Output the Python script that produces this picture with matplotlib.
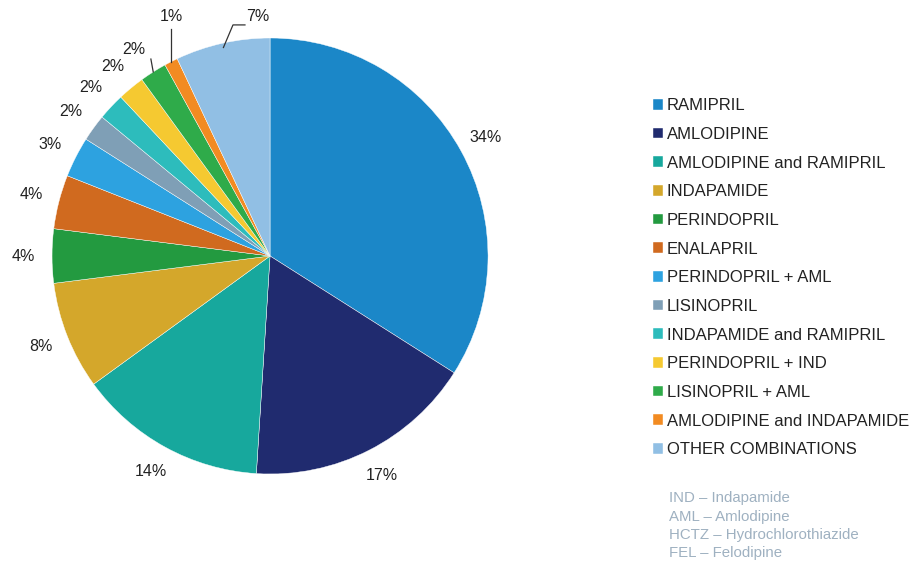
import matplotlib.pyplot as plt
import numpy as np

plt.rcParams['font.family'] = ['Liberation Sans', 'DejaVu Sans']

drugs = ['RAMIPRIL', 'AMLODIPINE', 'AMLODIPINE and RAMIPRIL', 'INDAPAMIDE',
         'PERINDOPRIL', 'ENALAPRIL', 'PERINDOPRIL + AML', 'LISINOPRIL',
         'INDAPAMIDE and RAMIPRIL', 'PERINDOPRIL + IND', 'LISINOPRIL + AML',
         'AMLODIPINE and INDAPAMIDE', 'OTHER COMBINATIONS']
shares = [34, 17, 14, 8, 4, 4, 3, 2, 2, 2, 2, 1, 7]
colors = ['#1b87c8', '#202b6f', '#17a89d', '#d4a72b', '#239a40', '#d06a1f',
          '#2da2e0', '#7f9fb6', '#2dbcbc', '#f5c931', '#2fab4a', '#f28b22',
          '#91bfe4']
notes = ['IND \u2013 Indapamide', 'AML \u2013 Amlodipine',
         'HCTZ \u2013 Hydrochlorothiazide', 'FEL \u2013 Felodipine']

fig = plt.figure(figsize=(9.16, 5.65), dpi=100)
ax = fig.add_axes([-0.0146, 0.0453, 0.6188, 1.0032])
wedges, _ = ax.pie(shares, colors=colors, startangle=90, counterclock=False,
                   wedgeprops=dict(edgecolor='white', linewidth=0.3))
ax.set_xlim(-1.3, 1.3)
ax.set_ylim(-1.3, 1.3)
ax.set_aspect('equal')
ax.axis('off')

lab = dict(fontsize=11.5, color='#222222')
line = dict(color='#333333', lw=0.9)

# percentage labels, small slices at the top get leader lines
n = len(wedges)
for i, w in enumerate(wedges):
    mid = np.deg2rad((w.theta1 + w.theta2) / 2)
    txt = f'{shares[i]}%'
    x, y = np.cos(mid), np.sin(mid)
    if i == n - 1:
        # elbow leader for the "other" slice
        ax.plot([0.98 * x, -0.17, -0.115], [0.98 * y, 1.06, 1.06], **line)
        ax.text(-0.11, 1.10, txt, ha='left', va='center', **lab)
    elif i == n - 2:
        ax.plot([x, x], [y, 1.04], **line)
        ax.text(x, 1.10, txt, ha='center', va='center', **lab)
    elif i == n - 3:
        ax.plot([x, x * 1.02], [y, y * 1.07], **line)
        ax.text(x * 1.03 - 0.02, y * 1.08, txt, ha='right', va='bottom', **lab)
    else:
        ax.text(1.13 * x, 1.13 * y, txt, ha='center', va='center', **lab)

leg = fig.legend(wedges, drugs, loc='upper left', bbox_to_anchor=(0.706, 0.838),
                 frameon=False, fontsize=12, handlelength=0.6, handleheight=0.6,
                 handletextpad=0.2, labelspacing=0.82, borderaxespad=0)
for t in leg.get_texts():
    t.set_color('#222222')

for k, note in enumerate(notes):
    fig.text(0.730, 1 - (498 + 18.5 * k) / 565, note, ha='left', va='center',
             fontsize=10.8, color='#9fb1c1')

fig.savefig('out.png', dpi=100, facecolor='white')
